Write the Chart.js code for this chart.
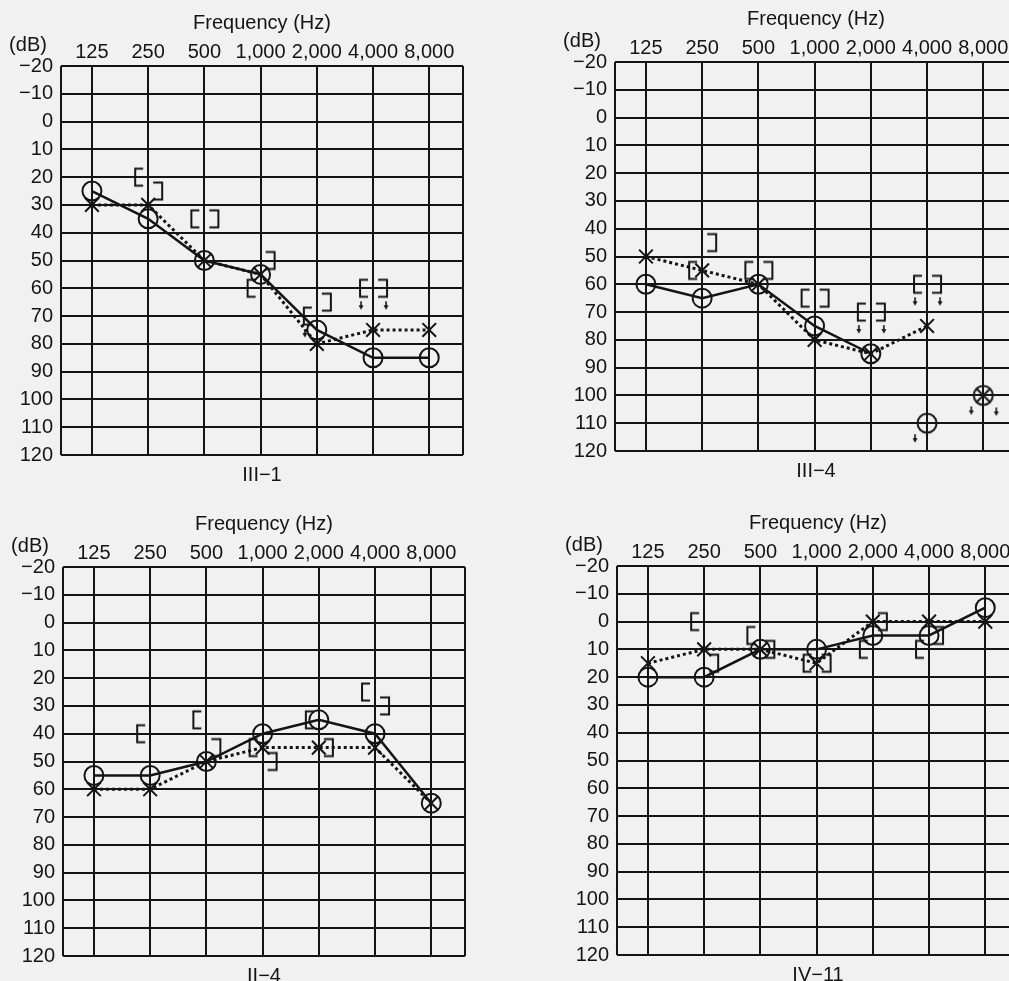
<!DOCTYPE html>
<html>
<head>
<meta charset="utf-8">
<title>Audiograms</title>
<script src="https://cdn.jsdelivr.net/npm/chart.js@4.4.1/dist/chart.umd.min.js"></script>
<style>
  body { margin: 0; background: #f1f1f1; }
  #page { position: relative; width: 1009px; height: 981px; overflow: hidden; }
  .panel { position: absolute; width: 530px; height: 490px; }
</style>
</head>
<body>
<div id="page">
  <div class="panel" style="left:0px;top:0px"><canvas id="p1" width="530" height="490"></canvas></div>
  <div class="panel" style="left:554px;top:-4px"><canvas id="p2" width="530" height="490"></canvas></div>
  <div class="panel" style="left:2px;top:501px"><canvas id="p3" width="530" height="490"></canvas></div>
  <div class="panel" style="left:556px;top:500px"><canvas id="p4" width="530" height="490"></canvas></div>
</div>
<script>
const ink = '#141414';
const fontFamily = '"Liberation Sans", Arial, sans-serif';

const frequencies = ['125', '250', '500', '1,000', '2,000', '4,000', '8,000'];
const dbTicks = [-20, -10, 0, 10, 20, 30, 40, 50, 60, 70, 80, 90, 100, 110, 120];
const xMin = -0.55;
const xMax = 6.6;

// III-1
const p1RightAir = [25, 35, 50, 55, 75, 85, 85];
const p1LeftAir = [30, 30, 50, 55, 80, 75, 75];
const p1RightAirNR = [];
const p1LeftAirNR = [];
const p1RightBone = [null, 20, 35, 60, null, null, null];
const p1RightBoneNR = [null, null, null, null, 70, 60, null];
const p1LeftBone = [null, 25, 35, 50, 65, null, null];
const p1LeftBoneNR = [null, null, null, null, null, 60, null];

// III-4
const p2RightAir = [60, 65, 60, 75, 85, null, null];
const p2LeftAir = [50, 55, 60, 80, 85, 75, null];
const p2RightAirNR = [null, null, null, null, null, 110, 100];
const p2LeftAirNR = [null, null, null, null, null, null, 100];
const p2RightBone = [null, 55, 55, 65, null, null, null];
const p2RightBoneNR = [null, null, null, null, 70, 60, null];
const p2LeftBone = [null, 45, 55, 65, null, null, null];
const p2LeftBoneNR = [null, null, null, null, 70, 60, null];

// II-4
const p3RightAir = [55, 55, 50, 40, 35, 40, 65];
const p3LeftAir = [60, 60, 50, 45, 45, 45, 65];
const p3RightBone = [null, 40, 35, 45, 35, 25, null];
const p3LeftBone = [null, null, 45, 50, 45, 30, null];

// IV-11
const p4RightAir = [20, 20, 10, 10, 5, 5, -5];
const p4LeftAir = [15, 10, 10, 15, 0, 0, 0];
const p4RightBone = [null, 0, 5, 15, 10, 10, null];
const p4LeftBone = [null, 15, 10, 15, 0, 5, null];

// small symbol images used as point styles
function drawArrow(g, x, y) {
  g.lineWidth = 1.6;
  g.beginPath(); g.moveTo(x, y); g.lineTo(x, y + 5); g.stroke();
  g.beginPath(); g.moveTo(x - 2.5, y + 4); g.lineTo(x + 2.5, y + 4); g.lineTo(x, y + 8.5); g.closePath(); g.fill();
}

function makeSymbol(kind, noResponse) {
  const c = document.createElement('canvas');
  c.width = 60; c.height = 60;
  const g = c.getContext('2d');
  const m = 30;
  g.strokeStyle = ink; g.fillStyle = ink; g.lineWidth = 2;
  g.beginPath();
  if (kind === '[') {
    g.moveTo(m - 5, m - 8.5); g.lineTo(m - 13, m - 8.5); g.lineTo(m - 13, m + 8.5); g.lineTo(m - 5, m + 8.5);
    g.stroke();
    if (noResponse) drawArrow(g, m - 12, m + 13);
  } else if (kind === ']') {
    g.moveTo(m + 5, m - 8.5); g.lineTo(m + 14, m - 8.5); g.lineTo(m + 14, m + 8.5); g.lineTo(m + 5, m + 8.5);
    g.stroke();
    if (noResponse) drawArrow(g, m + 13, m + 13);
  } else if (kind === 'O') {
    g.arc(m, m, 9.5, 0, Math.PI * 2);
    g.stroke();
    if (noResponse) drawArrow(g, m - 12, m + 11);
  } else if (kind === 'X') {
    g.moveTo(m - 6.8, m - 6.8); g.lineTo(m + 6.8, m + 6.8);
    g.moveTo(m + 6.8, m - 6.8); g.lineTo(m - 6.8, m + 6.8);
    g.stroke();
    if (noResponse) drawArrow(g, m + 13, m + 12);
  }
  return c;
}

const symbols = {
  bracketL: makeSymbol('[', false),
  bracketLNR: makeSymbol('[', true),
  bracketR: makeSymbol(']', false),
  bracketRNR: makeSymbol(']', true),
  circleNR: makeSymbol('O', true),
  crossNR: makeSymbol('X', true)
};

const toPoints = arr => arr.map((v, i) => ({ x: i, y: v }));

// (dB) unit and caption under the grid
const panelText = {
  id: 'panelText',
  afterDraw(chart, args, opts) {
    const { ctx, chartArea } = chart;
    ctx.save();
    ctx.fillStyle = ink;
    ctx.font = '20px ' + fontFamily;
    ctx.textAlign = 'center';
    ctx.textBaseline = 'middle';
    ctx.fillText('(dB)', chartArea.left - 33, chartArea.top - 21);
    ctx.fillText(opts.caption, (chartArea.left + chartArea.right) / 2, chartArea.bottom + 20);
    ctx.restore();
  }
};

function markers(data, style) {
  return {
    data: toPoints(data || []),
    showLine: false,
    pointStyle: style,
    pointRadius: 9
  };
}

function audiogram(id, caption, s) {
  const font = { family: fontFamily, size: 20 };
  const datasets = [
    {
      data: toPoints(s.rightAir),
      borderColor: ink,
      borderWidth: 2.5,
      tension: 0,
      pointStyle: 'circle',
      pointRadius: 9.5,
      pointBorderWidth: 2,
      pointBorderColor: ink,
      pointBackgroundColor: 'rgba(0,0,0,0)'
    },
    {
      data: toPoints(s.leftAir),
      borderColor: ink,
      borderWidth: 3,
      borderDash: [3, 3],
      tension: 0,
      pointStyle: 'crossRot',
      pointRadius: 9.7,
      pointBorderWidth: 2,
      pointBorderColor: ink
    },
    markers(s.rightAirNR, symbols.circleNR),
    markers(s.leftAirNR, symbols.crossNR),
    markers(s.rightBone, symbols.bracketL),
    markers(s.rightBoneNR, symbols.bracketLNR),
    markers(s.leftBone, symbols.bracketR),
    markers(s.leftBoneNR, symbols.bracketRNR)
  ];

  new Chart(document.getElementById(id), {
    type: 'line',
    data: { datasets },
    plugins: [panelText],
    options: {
      responsive: false,
      animation: false,
      events: [],
      layout: { padding: { left: 0, top: 0, right: 67, bottom: 35 } },
      plugins: {
        legend: { display: false },
        tooltip: { enabled: false },
        panelText: { caption }
      },
      scales: {
        x: {
          type: 'linear',
          position: 'top',
          min: xMin,
          max: xMax,
          afterBuildTicks: axis => {
            axis.ticks = [xMin, 0, 1, 2, 3, 4, 5, 6, xMax].map(v => ({ value: v }));
          },
          afterFit: axis => { axis.height = 66; },
          ticks: {
            autoSkip: false,
            maxRotation: 0,
            padding: 2,
            color: ink,
            font,
            callback: v => Number.isInteger(v) ? frequencies[v] : ''
          },
          grid: { color: ink, lineWidth: 2, drawTicks: false },
          border: { display: false },
          title: {
            display: true,
            text: 'Frequency (Hz)',
            color: ink,
            font,
            padding: { top: 11, bottom: 0 }
          }
        },
        y: {
          reverse: true,
          min: -20,
          max: 120,
          afterBuildTicks: axis => {
            axis.ticks = dbTicks.map(v => ({ value: v }));
          },
          afterFit: axis => { axis.width = 61; },
          ticks: {
            autoSkip: false,
            padding: 8,
            color: ink,
            font,
            callback: v => v < 0 ? '\u2212' + (-v) : String(v)
          },
          grid: { color: ink, lineWidth: 2, drawTicks: false },
          border: { display: false }
        }
      }
    }
  });
}

audiogram('p1', 'III\u22121', {
  rightAir: p1RightAir, leftAir: p1LeftAir,
  rightAirNR: p1RightAirNR, leftAirNR: p1LeftAirNR,
  rightBone: p1RightBone, rightBoneNR: p1RightBoneNR,
  leftBone: p1LeftBone, leftBoneNR: p1LeftBoneNR
});
audiogram('p2', 'III\u22124', {
  rightAir: p2RightAir, leftAir: p2LeftAir,
  rightAirNR: p2RightAirNR, leftAirNR: p2LeftAirNR,
  rightBone: p2RightBone, rightBoneNR: p2RightBoneNR,
  leftBone: p2LeftBone, leftBoneNR: p2LeftBoneNR
});
audiogram('p3', 'II\u22124', {
  rightAir: p3RightAir, leftAir: p3LeftAir,
  rightBone: p3RightBone, leftBone: p3LeftBone
});
audiogram('p4', 'IV\u221211', {
  rightAir: p4RightAir, leftAir: p4LeftAir,
  rightBone: p4RightBone, leftBone: p4LeftBone
});
</script>
</body>
</html>
